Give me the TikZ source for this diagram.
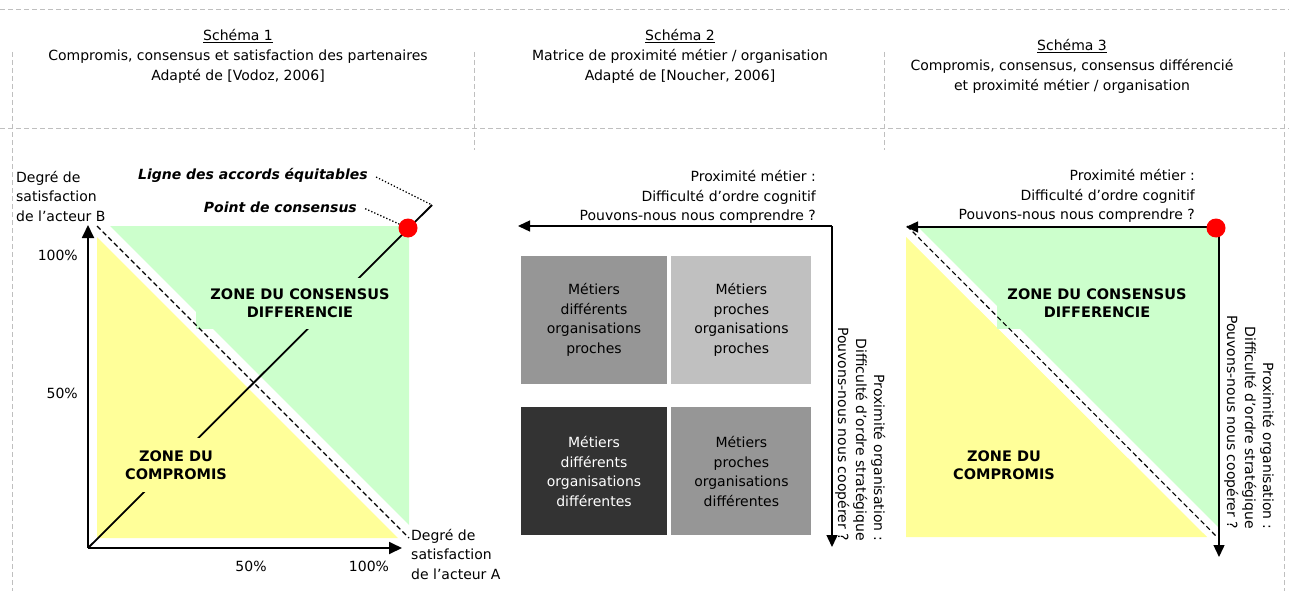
\documentclass[tikz,border=0pt]{standalone}
\usepackage{fontspec}
\setmainfont{DejaVu Sans}
\usetikzlibrary{arrows.meta,calc,positioning}

\definecolor{consensus}{HTML}{CCFFCC}
\definecolor{compromis}{HTML}{FFFF99}
\definecolor{trait}{HTML}{BFBFBF}
\definecolor{gris}{HTML}{969696}
\definecolor{grisclair}{HTML}{C0C0C0}
\definecolor{grisfonce}{HTML}{333333}

\tikzstyle{cadre} = [draw=trait, line width=1pt, dash pattern=on 5pt off 3pt]
\tikzstyle{titre} = [align=center, font=\fontsize{14}{20}\selectfont]
\tikzstyle{legende} = [inner sep=0pt, font=\fontsize{14}{19.5}\selectfont]
\tikzstyle{zone} = [rectangle, inner sep=0pt, align=center, font=\bfseries\fontsize{14.5}{18.5}\selectfont]
\tikzstyle{metier} = [rectangle, minimum width=146pt, minimum height=128pt, inner sep=0pt, text centered, align=center, font=\fontsize{14}{19.5}\selectfont]
\tikzstyle{accord} = [circle, fill=red, minimum size=19pt, inner sep=0pt]
\tikzstyle{arrow} = [line width=1.4pt, -{Triangle[length=12pt,width=11pt]}]
\tikzstyle{axe} = [line width=1.8pt, -{Triangle[length=13pt,width=12pt]}]
\tikzstyle{equite} = [line width=1.8pt]
\tikzstyle{frontiere} = [line width=1.1pt, dash pattern=on 5pt off 3pt]
\tikzstyle{renvoi} = [line width=1.3pt, dash pattern=on 1.3pt off 2pt, shorten <=9pt]

\begin{document}
\begin{tikzpicture}[x=1pt, y=-1pt]
\useasboundingbox (0,0) rectangle (1289,591);

% cadre
\draw [cadre] (0,10) -- (1289,10);
\draw [cadre] (0,128) -- (1289,128);
\foreach \x/\y in {12/591, 474/150, 884/150, 1284/591}
  \draw [cadre] (\x,52) -- (\x,\y);

\node (titre1) [titre] at (238,56) {\underline{Schéma 1}\\Compromis, consensus et satisfaction des partenaires\\Adapté de [Vodoz, 2006]};
\node (titre2) [titre] at (680,56) {\underline{Schéma 2}\\Matrice de proximité métier / organisation\\Adapté de [Noucher, 2006]};
\node (titre3) [titre] at (1072,66) {\underline{Schéma 3}\\Compromis, consensus, consensus différencié\\et proximité métier / organisation};

% schema 1
\fill [consensus] (110,226) -- (409,226) -- (409,525) -- cycle;
\fill [compromis] (97,237) -- (97,538) -- (398,538) -- cycle;
\coordinate (o1) at (88,548);
\coordinate (eq1) at (432,205);
\coordinate (haut1) at (88,225);
\coordinate (droite1) at (402,548);
\coordinate (f1a) at (97,226);
\coordinate (f1b) at (409,538);
\draw [equite] (o1) -- (eq1);
\node (cons1) [zone, fill=consensus, minimum width=208pt, minimum height=51pt] at (300,303) {ZONE DU CONSENSUS\\DIFFERENCIE};
\node (comp1) [zone, fill=compromis, minimum width=124pt, minimum height=54pt] at (176,465) {ZONE DU\\COMPROMIS};
\draw [frontiere] (f1a) -- (f1b);
\draw [axe] (o1) -- (haut1);
\draw [axe] (o1) -- (droite1);
\node (accord1) [accord] at (408,228) {};

\node (ligne) [legende, anchor=east, font=\bfseries\itshape\fontsize{14}{18}\selectfont] at (368,175) {Ligne des accords équitables};
\node (point) [legende, anchor=east, font=\bfseries\itshape\fontsize{14}{18}\selectfont] at (357,207) {Point de consensus};
\draw [renvoi] ([yshift=2pt]ligne.east) -- (eq1);
\draw [renvoi] ([yshift=2pt]point.east) -- (accord1);

\node (acteurB) [legende, anchor=west, align=left] at (16,196) {Degré de\\satisfaction\\de l’acteur B};
\node (acteurA) [legende, anchor=west, align=left] at (411,554) {Degré de\\satisfaction\\de l’acteur A};
\node (y100) [legende, anchor=east] at (78,255) {100\%};
\node (y50) [legende, anchor=east] at (78,393) {50\%};
\node (x50) [legende] at (251,566) {50\%};
\node (x100) [legende] at (369,566) {100\%};

% schema 2
\coordinate (c2) at (832,226);
\coordinate (g2) at (518,226);
\coordinate (b2) at (832,547);
\draw [arrow] (c2) -- (g2);
\draw [arrow] (c2) -- (b2);
\node (metier2) [legende, anchor=east, align=right] at (816,197) {Proximité métier :\\Difficulté d’ordre cognitif\\Pouvons-nous nous comprendre ?};
\node (orga2) [legende, rotate=-90, anchor=south east, align=right, font=\fontsize{14}{18}\selectfont] at (835,541) {Proximité organisation :\\Difficulté d’ordre stratégique\\Pouvons-nous nous coopérer ?};

\node (dp) [metier, fill=gris] at (594,320) {Métiers\\différents\\organisations\\proches};
\node (pp) [metier, fill=grisclair, minimum width=140pt, right=4pt of dp] {Métiers\\proches\\organisations\\proches};
\node (dd) [metier, fill=grisfonce, text=white, below=23pt of dp] {Métiers\\différents\\organisations\\différentes};
\node (pd) [metier, fill=gris, minimum width=140pt, right=4pt of dd] {Métiers\\proches\\organisations\\différentes};

% schema 3
\fill [consensus] (917,226) -- (1218,226) -- (1218,527) -- cycle;
\fill [compromis] (906,237) -- (906,537) -- (1207,537) -- cycle;
\coordinate (c3) at (1219,227);
\coordinate (g3) at (906,227);
\coordinate (b3) at (1219,557);
\coordinate (f3a) at (907,226);
\coordinate (f3b) at (1217,537);
\node (cons3) [zone, fill=consensus, minimum width=200pt, minimum height=51pt] at (1097,303) {ZONE DU CONSENSUS\\DIFFERENCIE};
\node (comp3) [zone, fill=compromis, minimum width=124pt, minimum height=54pt] at (1004,465) {ZONE DU\\COMPROMIS};
\draw [frontiere] (f3a) -- (f3b);
\draw [arrow] (c3) -- (g3);
\draw [arrow] (c3) -- (b3);
\node (accord3) [accord] at (1216,228) {};

\node (metier3) [legende, anchor=east, align=right] at (1195,196) {Proximité métier :\\Difficulté d’ordre cognitif\\Pouvons-nous nous comprendre ?};
\node (orga3) [legende, rotate=-90, anchor=south east, align=right, font=\fontsize{14}{18}\selectfont] at (1224,529) {Proximité organisation :\\Difficulté d’ordre stratégique\\Pouvons-nous nous coopérer ?};

\end{tikzpicture}
\end{document}
